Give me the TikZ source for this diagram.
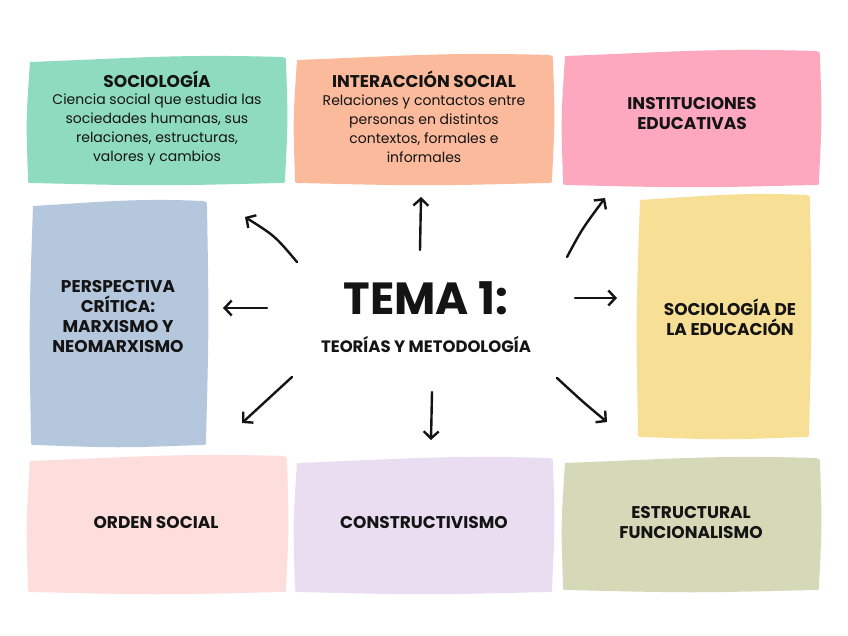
\documentclass[tikz,border=0pt]{standalone}
\usepackage{fontspec}
\setmainfont{Poppins}
\usetikzlibrary{arrows.meta}
\definecolor{ink}{HTML}{141414}
\definecolor{cgreen}{HTML}{8EDBC0}
\definecolor{csalmon}{HTML}{FBBA9B}
\definecolor{cpink}{HTML}{FDA8BF}
\definecolor{cblue}{HTML}{B5C7DD}
\definecolor{cyellow}{HTML}{F7E095}
\definecolor{clpink}{HTML}{FDDEDD}
\definecolor{clav}{HTML}{EADDF1}
\definecolor{colive}{HTML}{D5D9B8}
\newcommand{\wbox}[5]{%
  \pgfmathsetmacro{\xa}{#1}\pgfmathsetmacro{\ya}{#2}%
  \pgfmathsetmacro{\xb}{#3}\pgfmathsetmacro{\yb}{#4}%
  \pgfmathsetmacro{\xm}{(#1+#3)/2}\pgfmathsetmacro{\ym}{(#2+#4)/2}%
  \fill[#5] (\xa+2,\ya+5) .. controls (\xm-20,\ya+1) and (\xm+20,\ya-3) .. (\xb-4,\ya)
    .. controls (\xb,\ya+1) .. (\xb,\ya+6)
    .. controls (\xb+2,\ym) .. (\xb-1,\yb-4)
    .. controls (\xb-1,\yb) .. (\xb-6,\yb)
    .. controls (\xm,\yb+3) .. (\xa+4,\yb)
    .. controls (\xa,\yb) .. (\xa,\yb-5)
    .. controls (\xa-2,\ym) .. (\xa+2,\ya+5) -- cycle;%
}
\tikzset{
  ttl/.style={font=\bfseries\fontsize{17}{20}\selectfont, align=center, text=ink, inner sep=0pt},
  desc/.style={font=\fontsize{14}{19}\selectfont, align=center, text=ink, inner sep=0pt},
  big/.style={font=\bfseries\fontsize{45}{48}\selectfont, text=ink, inner sep=0pt},
  sub/.style={font=\bfseries\fontsize{16.5}{18}\selectfont, text=ink, inner sep=0pt},
  arr/.style={draw=ink, line width=2.4pt, line cap=round, line join=round,
    -{Straight Barb[length=7pt,width=15pt]}}
}
\begin{document}
\begin{tikzpicture}[x=1pt,y=-1pt]
\fill[white] (0,0) rectangle (848,636);
\useasboundingbox (0,0) rectangle (848,636);
% boxes
\wbox{28}{57}{286}{183}{cgreen}
\wbox{295}{55}{553}{183}{csalmon}
\wbox{563}{51}{820}{185}{cpink}
\wbox{31}{201}{207}{445}{cblue}
\wbox{638}{195}{810}{437}{cyellow}
\wbox{28}{456}{287}{592}{clpink}
\wbox{295}{458}{553}{592}{clav}
\wbox{563}{458}{820}{590}{colive}
% texts
\node[ttl] (soc) at (157,79) {SOCIOLOGÍA};
\node[desc] (socd) at (157,129.5) {Ciencia social que estudia las\\sociedades humanas, sus\\relaciones, estructuras,\\valores y cambios};
\node[ttl] (int) at (424,79) {INTERACCIÓN SOCIAL};
\node[desc] (intd) at (424,129) {Relaciones y contactos entre\\personas en distintos\\contextos, formales e\\informales};
\node[ttl] (ins) at (692,114) {INSTITUCIONES\\EDUCATIVAS};
\node[ttl] (per) at (118,317) {PERSPECTIVA\\CRÍTICA:\\MARXISMO Y\\NEOMARXISMO};
\node[ttl] (sde) at (730,317) {SOCIOLOGÍA DE\\LA EDUCACIÓN};
\node[ttl] (ord) at (156,523) {ORDEN SOCIAL};
\node[ttl] (con) at (424,523) {CONSTRUCTIVISMO};
\node[ttl] (est) at (691,523) {ESTRUCTURAL\\FUNCIONALISMO};
\node[big] (tema) at (426,298) {TEMA 1:};
\node[sub] (teo) at (426,345) {TEORÍAS Y METODOLOGÍA};
% arrows
\coordinate (u0) at (420,250); \coordinate (u1) at (421,197);
\coordinate (ur0) at (567,257); \coordinate (ur1) at (605,198);
\coordinate (r0) at (575,298); \coordinate (r1) at (617,298);
\coordinate (dr0) at (557,378); \coordinate (dr1) at (607,422);
\coordinate (d0) at (432,392); \coordinate (d1) at (431,440);
\coordinate (dl0) at (292,377); \coordinate (dl1) at (242,423);
\coordinate (l0) at (267,308); \coordinate (l1) at (223,308);
\coordinate (ul0) at (297,262); \coordinate (ul1) at (245,217);
\draw[arr] (u0) -- (u1);
\draw[arr] (ur0) .. controls (582,229) .. (ur1);
\draw[arr] (r0) -- (r1);
\draw[arr] (dr0) .. controls (583,402) .. (dr1);
\draw[arr] (d0) -- (d1);
\draw[arr] (dl0) .. controls (268,399) .. (dl1);
\draw[arr] (l0) -- (l1);
\draw[arr] (ul0) .. controls (275,236) .. (ul1);
\end{tikzpicture}
\end{document}
